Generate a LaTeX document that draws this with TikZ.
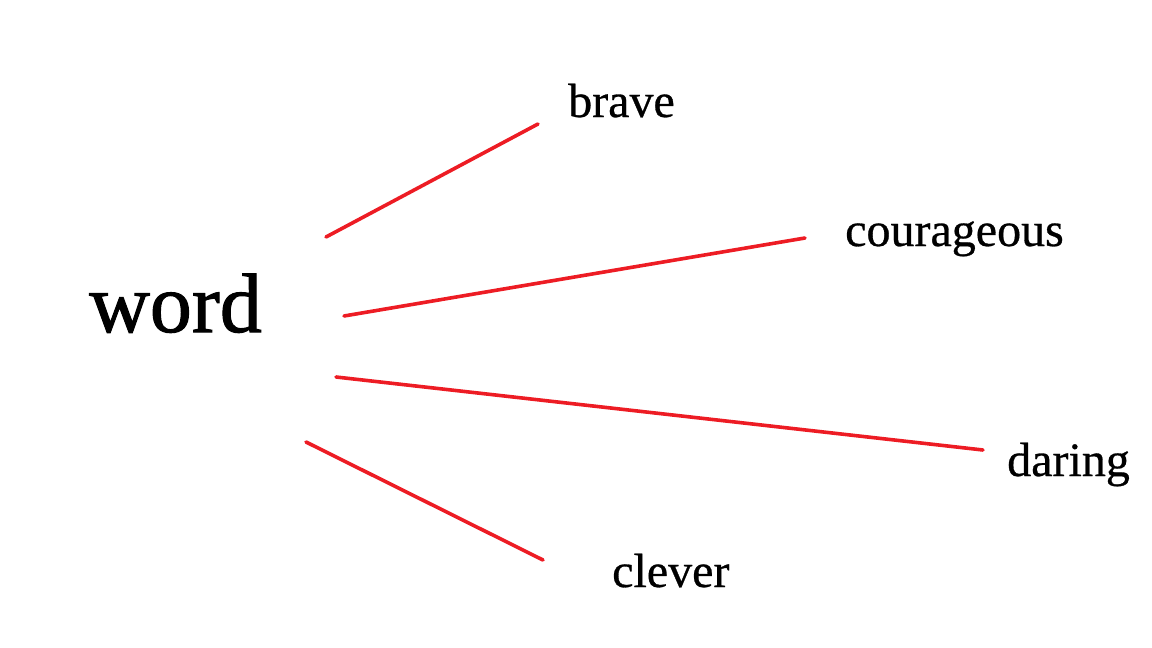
\documentclass[tikz,border=0pt]{standalone}
\usepackage{fontspec}
\setmainfont{Liberation Serif}
\newfontfamily\heavyserif[FakeBold=1.2]{Liberation Serif}
\newfontfamily\midserif[FakeBold=0.6]{Liberation Serif}
\definecolor{paintred}{RGB}{237,28,36}
\begin{document}
\begin{tikzpicture}[x=1pt,y=-1pt,
  lbl/.style={inner sep=0pt,anchor=base west,font=\midserif\fontsize{48}{48}\selectfont},
  big/.style={inner sep=0pt,anchor=base west,font=\heavyserif\fontsize{84}{84}\selectfont},
  link/.style={draw=paintred,line width=3.6pt,line cap=round}]
\useasboundingbox (0,0) rectangle (1152,648);
\node[big] (word) at (89,332) {word};
\node[lbl] (brave) at (568,117) {brave};
\node[lbl] (courageous) at (845,246) {courageous};
\node[lbl] (daring) at (1007,476) {daring};
\node[lbl] (clever) at (612,587) {clever};
\coordinate (w1) at (326,237);
\coordinate (w2) at (344,316);
\coordinate (w3) at (336,377);
\coordinate (w4) at (306,442);
\coordinate (e1) at (538,124);
\coordinate (e2) at (805,238);
\coordinate (e3) at (983,450);
\coordinate (e4) at (543,560);
\draw[link] (w1) -- (e1);
\draw[link] (w2) -- (e2);
\draw[link] (w3) -- (e3);
\draw[link] (w4) -- (e4);
\end{tikzpicture}
\end{document}
